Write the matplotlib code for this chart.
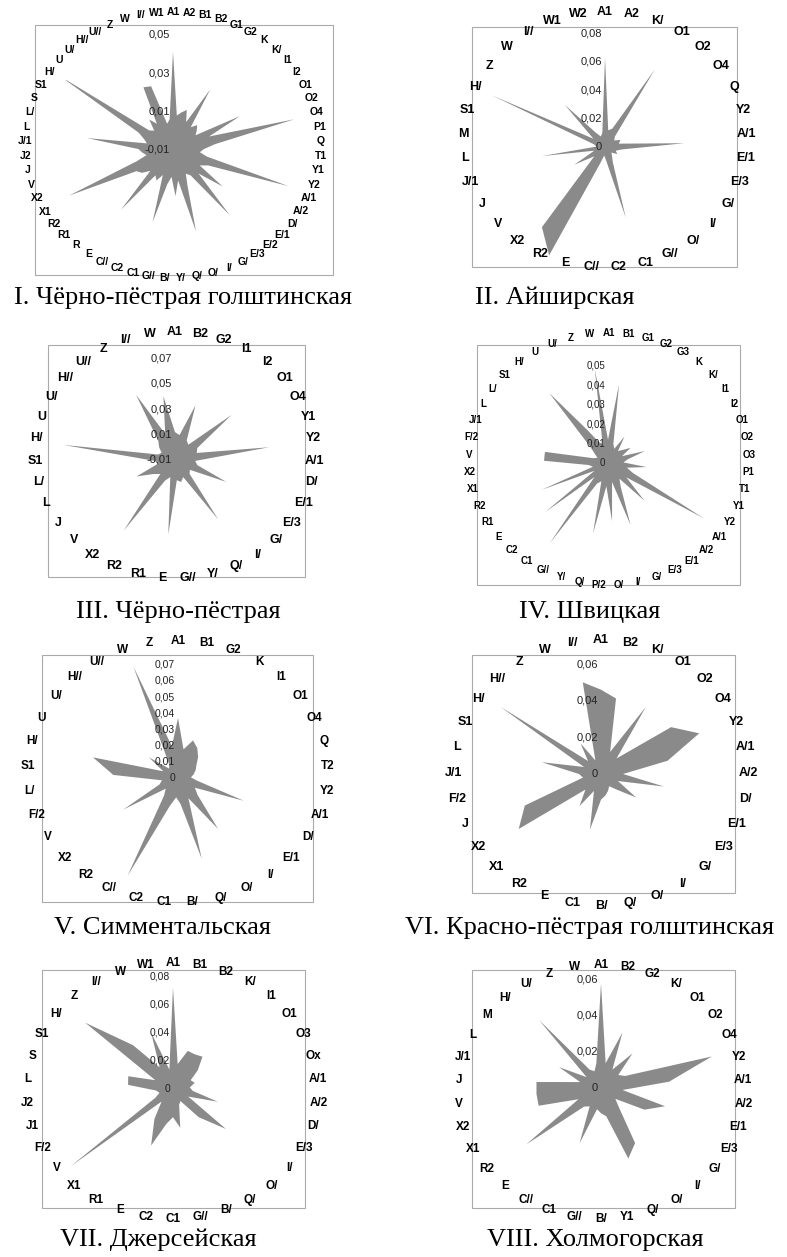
import numpy as np
import matplotlib
matplotlib.use("Agg")
import matplotlib.pyplot as plt
from matplotlib.patches import Rectangle

# ---- data ----
cats1 = ["A1", "A2", "B1", "B2", "G1", "G2", "K", "K/", "I1", "I2", "O1", "O2", "O4", "P1", "Q", "T1",
         "Y1", "Y2", "A/1", "A/2", "D/", "E/1", "E/2", "E/3", "G/", "I/", "O/", "Q/", "Y/", "B/", "G//",
         "C1", "C2", "C//", "E", "R", "R1", "R2", "X1", "X2", "V", "J", "J2", "J/1", "L", "L/", "S", "S1",
         "H/", "U", "U/", "H//", "U//", "Z", "W", "I//", "W1"]
vals1 = [0.041, 0.008, 0.010, 0.012, 0.006, 0.027, 0.005, 0.008, 0.006, 0.004, 0.029, 0.010, 0.055, 0.012,
         0.006, 0.004, 0.008, 0.053, 0.010, 0.006, 0.022, 0.008, 0.035, 0.006, 0.004, 0.010, 0.034, 0.006,
         0.014, 0.004, 0.008, 0.029, 0.004, 0.008, 0.006, 0.031, 0.006, 0.010, 0.012, 0.049, 0.010, 0.004,
         0.006, 0.008, 0.035, 0.004, 0.006, 0.010, 0.060, 0.006, 0.004, 0.010, 0.006, 0.026, 0.025, 0.004,
         0.006]
ticks1 = [-0.01, 0.01, 0.03, 0.05]

cats2 = ["A1", "A2", "K/", "O1", "O2", "O4", "Q", "Y2", "A/1", "E/1", "E/3", "G/", "I/", "O/", "G//", "C1",
         "C2", "C//", "E", "R2", "X2", "V", "J", "J/1", "L", "M", "S1", "H/", "Z", "W", "I//", "W1", "W2"]
vals2 = [0.063, 0.012, 0.014, 0.065, 0.010, 0.008, 0.012, 0.010, 0.056, 0.012, 0.008, 0.010, 0.006, 0.008,
         0.012, 0.052, 0.010, 0.006, 0.012, 0.086, 0.072, 0.010, 0.025, 0.008, 0.045, 0.006, 0.008, 0.088,
         0.010, 0.041, 0.012, 0.008, 0.010]
ticks2 = [0, 0.02, 0.04, 0.06, 0.08]

cats3 = ["A1", "B2", "G2", "I1", "I2", "O1", "O4", "Y1", "Y2", "A/1", "D/", "E/1", "E/3", "G/", "I/", "Q/",
         "Y/", "G//", "E", "R1", "R2", "X2", "V", "J", "L", "L/", "S1", "H/", "U", "U/", "H//", "U//", "Z",
         "I//", "W"]
vals3 = [0.012, 0.010, 0.036, 0.008, 0.006, 0.047, 0.010, 0.008, 0.065, 0.006, 0.008, 0.034, 0.004, 0.006,
         0.048, 0.005, 0.008, 0.006, 0.049, 0.004, 0.008, 0.059, 0.006, 0.010, 0.023, 0.004, 0.006, 0.079,
         0.004, 0.002, 0.006, 0.010, 0.050, 0.012, 0.041]
ticks3 = [-0.01, 0.01, 0.03, 0.05, 0.07]

cats4 = ["A1", "B1", "G1", "G2", "G3", "K", "K/", "I1", "I2", "O1", "O2", "O3", "P1", "T1", "Y1", "Y2",
         "A/1", "A/2", "E/1", "E/3", "G/", "I/", "O/", "P/2", "Q/", "Y/", "G//", "C1", "C2", "E", "R1",
         "R2", "X1", "X2", "V", "F/2", "J/1", "L", "L/", "S1", "H/", "U", "U/", "Z", "W"]
vals4 = [0.012, 0.041, 0.010, 0.008, 0.016, 0.008, 0.010, 0.014, 0.008, 0.020, 0.010, 0.008, 0.020, 0.010,
         0.014, 0.057, 0.012, 0.027, 0.010, 0.014, 0.034, 0.010, 0.030, 0.012, 0.037, 0.010, 0.012, 0.051,
         0.010, 0.041, 0.008, 0.037, 0.008, 0.010, 0.033, 0.033, 0.008, 0.006, 0.008, 0.012, 0.047, 0.020,
         0.012, 0.010, 0.049]
ticks4 = [0, 0.01, 0.02, 0.03, 0.04, 0.05]

cats5 = ["A1", "B1", "G2", "K", "I1", "O1", "O4", "Q", "T2", "Y2", "A/1", "D/", "E/1", "I/", "O/", "Q/",
         "B/", "C1", "C2", "C//", "R2", "X2", "V", "F/2", "L/", "S1", "H/", "U", "U/", "H//", "U//", "W", "Z"]
vals5 = [0.037, 0.018, 0.025, 0.022, 0.018, 0.014, 0.012, 0.010, 0.008, 0.012, 0.043, 0.012, 0.016, 0.040,
         0.014, 0.052, 0.016, 0.012, 0.018, 0.068, 0.014, 0.010, 0.039, 0.012, 0.010, 0.040, 0.054, 0.010,
         0.022, 0.008, 0.010, 0.074, 0.020]
ticks5 = [0, 0.01, 0.02, 0.03, 0.04, 0.05, 0.06, 0.07]

cats6 = ["A1", "B2", "K/", "O1", "O2", "O4", "Y2", "A/1", "A/2", "D/", "E/1", "E/3", "G/", "I/", "O/", "Q/",
         "B/", "C1", "E", "R2", "X1", "X2", "J", "F/2", "J/1", "L", "S1", "H/", "H//", "Z", "W", "I//"]
vals6 = [0.046, 0.042, 0.013, 0.044, 0.012, 0.046, 0.058, 0.037, 0.012, 0.035, 0.010, 0.023, 0.012, 0.008,
         0.010, 0.012, 0.014, 0.031, 0.010, 0.021, 0.012, 0.054, 0.045, 0.010, 0.012, 0.033, 0.010, 0.066,
         0.010, 0.020, 0.008, 0.051]
ticks6 = [0, 0.02, 0.04, 0.06]

cats7 = ["A1", "B1", "B2", "K/", "I1", "O1", "O3", "Ox", "A/1", "A/2", "D/", "E/3", "I/", "O/", "Q/", "B/",
         "G//", "C1", "C2", "E", "R1", "X1", "V", "F/2", "J1", "J2", "L", "S", "S1", "H/", "Z", "I//", "W", "W1"]
vals7 = [0.072, 0.018, 0.029, 0.029, 0.031, 0.022, 0.014, 0.016, 0.012, 0.014, 0.033, 0.012, 0.047, 0.027,
         0.010, 0.012, 0.028, 0.020, 0.025, 0.043, 0.025, 0.012, 0.091, 0.014, 0.010, 0.012, 0.032, 0.033,
         0.014, 0.078, 0.042, 0.018, 0.043, 0.014]
ticks7 = [0, 0.02, 0.04, 0.06, 0.08]

cats8 = ["A1", "B2", "G2", "K/", "O1", "O2", "O4", "Y2", "A/1", "A/2", "E/1", "E/3", "G/", "I/", "O/", "Q/",
         "Y1", "B/", "G//", "C1", "C//", "E", "R2", "X1", "X2", "V", "J", "J/1", "L", "M", "H/", "U/", "Z", "W"]
vals8 = [0.058, 0.014, 0.033, 0.012, 0.026, 0.012, 0.015, 0.064, 0.038, 0.012, 0.037, 0.027, 0.010, 0.015,
         0.036, 0.042, 0.016, 0.014, 0.012, 0.033, 0.012, 0.014, 0.052, 0.014, 0.036, 0.036, 0.036, 0.012,
         0.026, 0.010, 0.051, 0.012, 0.010, 0.014]
ticks8 = [0, 0.02, 0.04, 0.06]

titles = ["I. Чёрно-пёстрая голштинская", "II. Айширская", "III. Чёрно-пёстрая", "IV. Швицкая",
          "V. Симментальская", "VI. Красно-пёстрая голштинская", "VII. Джерсейская", "VIII. Холмогорская"]

# ---- layout in pixels ----
# c: plot centre, s: px per unit, lc/rx/ry: label ellipse, box: frame, t: title position,
# fs: category label font, tfs: value label font
W, H = 787, 1257
layout = [
    dict(c=(173, 150), s=1925, rmin=-0.01, lc=(173, 145), rx=148, ry=133, box=(35, 25, 333, 275), t=(183, 298), fs=7.5, tfs=8),
    dict(c=(605, 147), s=1417, rmin=0.0, lc=(605, 140), rx=142, ry=128, box=(472, 27, 737, 267), t=(555, 298), fs=9, tfs=8),
    dict(c=(175, 460), s=1267, rmin=-0.01, lc=(175, 455), rx=140, ry=123, box=(48, 345, 305, 577), t=(178, 612), fs=9, tfs=8),
    dict(c=(608, 463), s=1940, rmin=0.0, lc=(609, 459), rx=140, ry=126, box=(477, 345, 740, 585), t=(590, 612), fs=7, tfs=7),
    dict(c=(178, 778), s=1620, rmin=0.0, lc=(178, 772), rx=150, ry=131, box=(42, 655, 313, 902), t=(162, 928), fs=8.5, tfs=7.5),
    dict(c=(601, 774), s=1833, rmin=0.0, lc=(601, 773), rx=147, ry=133, box=(472, 655, 735, 893), t=(590, 928), fs=9, tfs=8),
    dict(c=(173, 1089), s=1410, rmin=0.0, lc=(173, 1091), rx=146, ry=128, box=(42, 970, 305, 1208), t=(158, 1240), fs=8.5, tfs=7.5),
    dict(c=(601, 1088), s=1800, rmin=0.0, lc=(601, 1092), rx=143, ry=127, box=(472, 970, 735, 1208), t=(595, 1240), fs=8.5, tfs=8),
]

panels = [(cats1, vals1, ticks1), (cats2, vals2, ticks2), (cats3, vals3, ticks3), (cats4, vals4, ticks4),
          (cats5, vals5, ticks5), (cats6, vals6, ticks6), (cats7, vals7, ticks7), (cats8, vals8, ticks8)]

fig = plt.figure(figsize=(W / 100, H / 100), dpi=100)
fig.patch.set_facecolor("white")


def fmt(v):
    if abs(v) < 1e-9:
        return "0"
    return ("%.2f" % v).replace(".", ",")


for (cats, vals, ticks), lay, title in zip(panels, layout, titles):
    x0, y0, x1, y1 = lay["box"]
    fig.add_artist(Rectangle((x0 / W, 1 - y1 / H), (x1 - x0) / W, (y1 - y0) / H,
                             transform=fig.transFigure, fill=False, edgecolor="#aaaaaa", lw=0.8))
    cx, cy = lay["c"]
    R = 128
    ax = fig.add_axes([(cx - R) / W, 1 - (cy + R) / H, 2 * R / W, 2 * R / H], projection="polar")
    ax.set_theta_zero_location("N")
    ax.set_theta_direction(-1)
    rmin = lay["rmin"]
    ax.set_ylim(rmin, rmin + R / lay["s"])
    ax.patch.set_alpha(0)
    ax.spines["polar"].set_visible(False)
    ax.grid(False)
    ax.set_xticks([])
    ax.set_yticks([])

    n = len(cats)
    th = np.linspace(0, 2 * np.pi, n, endpoint=False)
    ax.fill(np.append(th, th[0]), np.append(vals, vals[0]), color="#8a8a8a", lw=0, zorder=2)

    for v in ticks:
        ax.annotate(fmt(v), xy=(0, v), xytext=(-2, 0), textcoords="offset points",
                    ha="right", va="center", fontsize=lay["tfs"], family="Liberation Sans",
                    color="#222222", zorder=5, annotation_clip=False)

    lx, ly = lay["lc"]
    for t, lab in zip(th, cats):
        px = lx + lay["rx"] * np.sin(t)
        py = ly - lay["ry"] * np.cos(t)
        fig.text(px / W, 1 - py / H, lab, ha="center", va="center", fontsize=lay["fs"],
                 fontweight="bold", family="Liberation Sans")

    fig.text(lay["t"][0] / W, 1 - lay["t"][1] / H, title, ha="center", va="center",
             fontsize=19, family="Liberation Serif")

fig.savefig("out.png", dpi=100, facecolor="white")
